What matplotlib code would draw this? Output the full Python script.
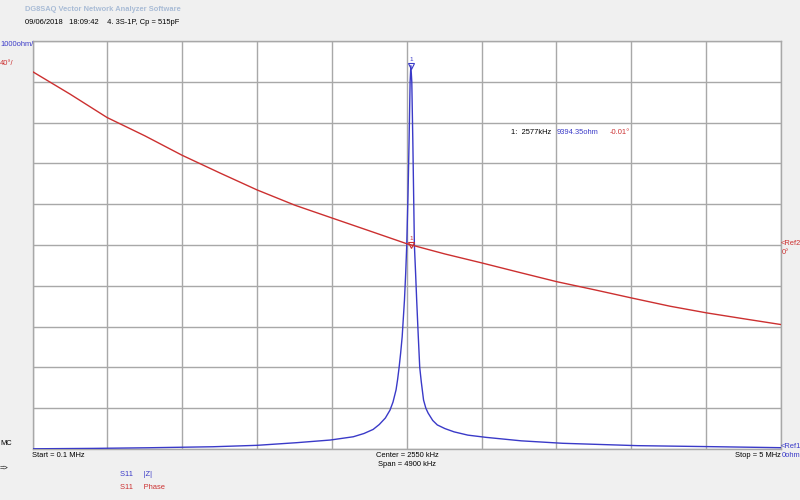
import matplotlib
matplotlib.use("Agg")
import matplotlib.pyplot as plt
from matplotlib import font_manager

# |Z| trace (kHz, ohm)
freq_z = [100, 500, 850, 1280, 1570, 1830, 2050, 2200, 2270, 2330, 2370, 2410,
          2440, 2460, 2480, 2490, 2500, 2510, 2520, 2535, 2543, 2550, 2558,
          2565, 2572, 2577, 2583, 2590, 2600, 2608, 2615, 2625, 2635, 2645,
          2660, 2675, 2690, 2720, 2750, 2800, 2860, 2950, 3070, 3300, 3570,
          4060, 4550, 5000]
mag_z = [5, 15, 30, 55, 90, 155, 220, 300, 380, 480, 600, 760,
         950, 1150, 1450, 1700, 2000, 2350, 2750, 3650, 4300, 5000, 6200,
         7500, 9000, 9394, 9000, 7500, 5000, 4300, 3650, 2800, 2000, 1650,
         1200, 1000, 880, 700, 590, 500, 420, 340, 285, 200, 140,
         82, 57, 32]

# Phase trace (kHz, degrees)
freq_p = [100, 345, 588, 836, 1079, 1327, 1570, 1818, 2060, 2309, 2551, 2800,
          3042, 3291, 3533, 3782, 4024, 4273, 4515, 4764, 5000]
phase_p = [170, 148, 125, 107, 88, 70.6, 54, 39, 26.5, 13.7, 1.2, -8.8,
           -17.6, -27, -36, -44, -52, -60, -66.6, -72.5, -78]

marker_f = 2577
marker_z = 9394.35
marker_ph = -0.01

x_min, x_max = 100, 5000
z_min, z_max = 0, 10000
p_min, p_max = -200, 200

BLUE = "#3a3ac8"
RED = "#cc3030"
GRID = "#a8a8a8"

names = {f.name for f in font_manager.fontManager.ttflist}
if "Liberation Sans Narrow" in names:
    FONT = ["Liberation Sans Narrow", "DejaVu Sans"]
    FS = 6.5
else:
    FONT = ["Liberation Sans", "DejaVu Sans"]
    FS = 5.4

fig = plt.figure(figsize=(8, 5), dpi=100, facecolor="#f0f0f0")
ax = fig.add_axes([32.5 / 800, 1 - 449 / 500, (781 - 32.5) / 800, (449 - 41) / 500])
ax.set_facecolor("white")
ax.set_xlim(x_min, x_max)
ax.set_ylim(z_min, z_max)
step_x = (x_max - x_min) / 10
ax.set_xticks([x_min + i * step_x for i in range(11)])
ax.set_yticks([z_min + i * (z_max - z_min) / 10 for i in range(11)])
ax.tick_params(length=0, labelbottom=False, labelleft=False)
ax.grid(True, color=GRID, linewidth=1.0)
for s in ax.spines.values():
    s.set_color(GRID)
    s.set_linewidth(1.0)

ax.plot(freq_z, mag_z, color=BLUE, linewidth=1.0, zorder=3)

ax2 = ax.twinx()
ax2.set_ylim(p_min, p_max)
ax2.set_yticks([])
ax2.tick_params(length=0)
for s in ax2.spines.values():
    s.set_visible(False)
ax2.plot(freq_p, phase_p, color=RED, linewidth=1.0, zorder=3)

# markers
ax.plot([marker_f], [marker_z], marker="v", markersize=4.5, markerfacecolor="none",
        markeredgecolor=BLUE, markeredgewidth=0.8, zorder=4)
ax.annotate("1", (marker_f, marker_z), xytext=(0, 3), textcoords="offset points",
            ha="center", va="bottom", fontsize=4.5, color=BLUE, family=FONT)
ax2.plot([marker_f], [marker_ph], marker="v", markersize=4.5, markerfacecolor="none",
         markeredgecolor=RED, markeredgewidth=0.8, zorder=4)
ax2.annotate("1", (marker_f, marker_ph), xytext=(0, 3), textcoords="offset points",
             ha="center", va="bottom", fontsize=4.5, color=RED, family=FONT)

def t(x, y, s, color="black", ha="left", va="top", **kw):
    fig.text(x / 800, 1 - y / 500, s, color=color, ha=ha, va=va,
             fontsize=kw.pop("fontsize", FS), family=FONT, **kw)

t(25, 6, "DG8SAQ Vector Network Analyzer Software", color="#a9bcd6", fontweight="bold")
t(25, 19, "09/06/2018   18:09:42    4. 3S-1P, Cp = 515pF")
t(0, 41, "1000ohm/", color=BLUE)
t(0, 60, "40°/", color=RED)
t(781, 240, "<Ref2", color=RED)
t(782, 249, "0°", color=RED)
t(781, 443, "<Ref1", color=BLUE)
t(782, 452, "0ohm", color=BLUE)
t(0, 440, "MC")
t(0, 465, "=>")
t(32, 452, "Start = 0.1 MHz")
t(407, 452, "Center = 2550 kHz", ha="center")
t(407, 461, "Span = 4900 kHz", ha="center")
t(781, 452, "Stop = 5 MHz", ha="right")
t(120, 471, "S11     |Z|", color=BLUE)
t(120, 484, "S11     Phase", color=RED)
t(511, 129, f"1:  {marker_f}kHz")
t(557, 129, f"{marker_z:.2f}ohm", color=BLUE)
t(610, 129, f"{marker_ph:.2f}°", color=RED)

fig.savefig("out.png", dpi=100, facecolor=fig.get_facecolor())
